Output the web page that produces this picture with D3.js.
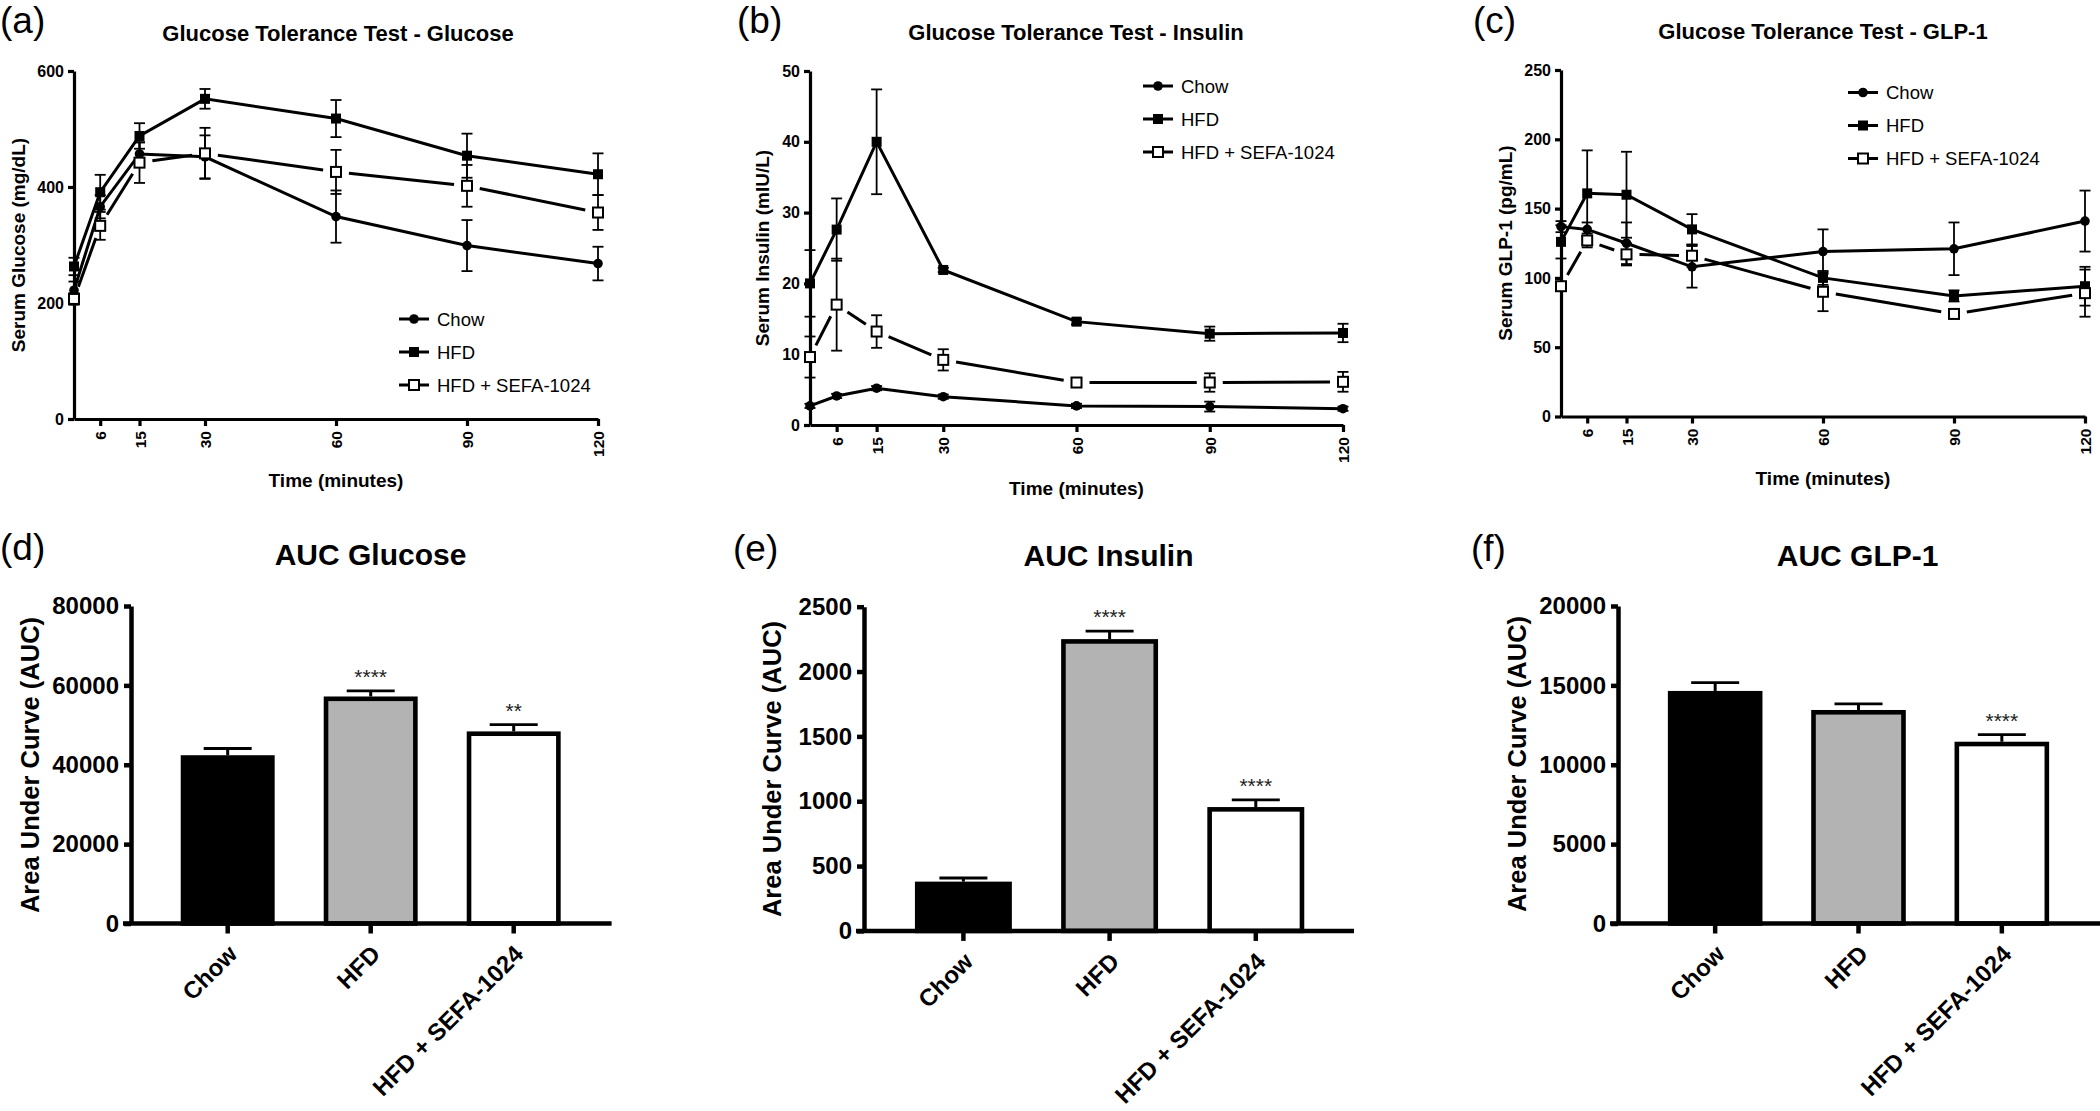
<!DOCTYPE html>
<html>
<head>
<meta charset="utf-8">
<script src="https://cdn.jsdelivr.net/npm/d3@7"></script>
<style>
  body { margin: 0; background: #fff; }
  svg { display: block; }
  text { font-family: "Liberation Sans", Arial, sans-serif; fill: #000; }
</style>
</head>
<body>
<div id="chart"></div>
<script>
const width = 2100;
const height = 1111;

// time points (minutes) and the labelled ticks
const times = [0, 6, 15, 30, 60, 90, 120];
const timeTicks = [6, 15, 30, 60, 90, 120];
const seriesNames = ["Chow", "HFD", "HFD + SEFA-1024"];

// (a) serum glucose, mg/dL
const chowGlucose = [222, 366, 457, 452, 349, 299, 268];
const chowGlucoseErr = [15, 20, 20, 37, 45, 44, 29];
const hfdGlucose = [263, 391, 488, 552, 518, 454, 422];
const hfdGlucoseErr = [15, 30, 22, 17, 32, 38, 36];
const sefaGlucose = [207, 333, 442, 458, 426, 402, 356];
const sefaGlucoseErr = [10, 24, 35, 44, 38, 36, 30];

// (b) serum insulin, mIU/L
const chowInsulin = [2.7, 4.1, 5.2, 4.0, 2.7, 2.6, 2.3];
const chowInsulinErr = [0.3, 0.3, 0.3, 0.3, 0.3, 0.7, 0.3];
const hfdInsulin = [20.0, 27.6, 40.0, 21.9, 14.6, 12.9, 13.0];
const hfdInsulinErr = [4.7, 4.4, 7.4, 0.3, 0.4, 1.0, 1.3];
const sefaInsulin = [9.6, 17.0, 13.2, 9.2, 6.0, 6.0, 6.1];
const sefaInsulinErr = [2.9, 6.5, 2.3, 1.5, 0.3, 1.3, 1.4];

// (c) serum GLP-1, pg/mL
const chowGlp = [137, 135, 125, 108, 119, 121, 141];
const chowGlpErr = [4, 5, 15, 15, 16, 19, 22];
const hfdGlp = [126, 161, 160, 135, 100, 87, 94];
const hfdGlpErr = [12, 31, 31, 11, 5, 4, 14];
const sefaGlp = [94, 127, 117, 116, 90, 74, 89];
const sefaGlpErr = [3, 5, 8, 8, 14, 3, 17];

// (d)-(f) area under curve
const groups = ["Chow", "HFD", "HFD + SEFA-1024"];
const aucGlucose = [42400, 57200, 48400];
const aucGlucoseErr = [1700, 1400, 1700];
const aucGlucoseStars = ["", "****", "**"];
const aucInsulin = [380, 2250, 955];
const aucInsulinErr = [28, 62, 56];
const aucInsulinStars = ["", "****", "****"];
const aucGlp = [14650, 13450, 11450];
const aucGlpErr = [520, 380, 450];
const aucGlpStars = ["", "", "****"];

const svg = d3.select("#chart")
  .append("svg")
  .attr("width", width)
  .attr("height", height);

function styleAxis(g, fontSize, strokeW) {
  g.attr("font-family", null).attr("font-size", null);
  g.selectAll("text")
    .style("font-size", fontSize + "px")
    .style("font-weight", "bold");
  g.selectAll("line").attr("stroke", "#000").attr("stroke-width", strokeW);
  g.select(".domain").attr("stroke", "#000").attr("stroke-width", strokeW);
}

function drawMarker(g, kind, cx, cy) {
  if (kind === "circle") {
    g.append("circle").attr("cx", cx).attr("cy", cy).attr("r", 4.8).attr("fill", "#000");
  } else if (kind === "square") {
    g.append("rect").attr("x", cx - 5).attr("y", cy - 5).attr("width", 10).attr("height", 10).attr("fill", "#000");
  } else {
    g.append("rect").attr("x", cx - 5).attr("y", cy - 5).attr("width", 10).attr("height", 10)
      .attr("fill", "#fff").attr("stroke", "#000").attr("stroke-width", 2);
  }
}

// time course panel
function linePanel(o) {
  const x = d3.scaleLinear().domain([0, 120]).range([o.x0, o.x1]);
  const y = d3.scaleLinear().domain([0, o.yMax]).range([o.y0, o.y1]);
  const g = svg.append("g");

  const xAxis = g.append("g")
    .attr("transform", `translate(0,${o.y0})`)
    .call(d3.axisBottom(x).tickValues(timeTicks).tickSize(7).tickSizeOuter(0));
  styleAxis(xAxis, 15.5, 3.2);
  xAxis.selectAll("text")
    .attr("transform", "rotate(-90)")
    .attr("text-anchor", "end")
    .attr("x", -12)
    .attr("y", 0)
    .attr("dy", "0.36em");

  const yAxis = g.append("g")
    .attr("transform", `translate(${o.x0},0)`)
    .call(d3.axisLeft(y).tickValues(o.yTicks).tickSize(6).tickSizeOuter(0).tickPadding(4));
  styleAxis(yAxis, 16, 3.2);

  const series = [
    { v: o.chow, e: o.chowErr, kind: "circle", dashed: false },
    { v: o.hfd, e: o.hfdErr, kind: "square", dashed: false },
    { v: o.sefa, e: o.sefaErr, kind: "open", dashed: true }
  ];

  const line = d3.line().x((d, i) => x(times[i])).y(d => y(d));

  series.forEach(s => {
    if (!s.dashed) {
      g.append("path").datum(s.v)
        .attr("d", line)
        .attr("fill", "none").attr("stroke", "#000").attr("stroke-width", 3);
    } else {
      // open-symbol series: segments stop short of each symbol
      const gap = 13;
      for (let i = 0; i < times.length - 1; i++) {
        const ax = x(times[i]), ay = y(s.v[i]);
        const bx = x(times[i + 1]), by = y(s.v[i + 1]);
        const len = Math.hypot(bx - ax, by - ay);
        if (len <= gap * 2) continue;
        const ux = (bx - ax) / len, uy = (by - ay) / len;
        g.append("line")
          .attr("x1", ax + ux * gap).attr("y1", ay + uy * gap)
          .attr("x2", bx - ux * gap).attr("y2", by - uy * gap)
          .attr("stroke", "#000").attr("stroke-width", 3);
      }
    }
  });

  series.forEach(s => {
    s.v.forEach((d, i) => {
      const cx = x(times[i]);
      const lo = y(d - s.e[i]), hi = y(d + s.e[i]);
      g.append("line").attr("x1", cx).attr("x2", cx).attr("y1", lo).attr("y2", hi)
        .attr("stroke", "#000").attr("stroke-width", 1.8);
      [lo, hi].forEach(yy => {
        g.append("line").attr("x1", cx - 5.5).attr("x2", cx + 5.5).attr("y1", yy).attr("y2", yy)
          .attr("stroke", "#000").attr("stroke-width", 1.8);
      });
    });
  });

  series.forEach(s => {
    s.v.forEach((d, i) => drawMarker(g, s.kind, x(times[i]), y(d)));
  });

  // legend
  series.forEach((s, i) => {
    const ly = o.legendY + i * 33;
    g.append("line").attr("x1", o.legendX).attr("x2", o.legendX + 30)
      .attr("y1", ly).attr("y2", ly).attr("stroke", "#000").attr("stroke-width", 3);
    drawMarker(g, s.kind, o.legendX + 15, ly);
    g.append("text").attr("x", o.legendX + 38).attr("y", ly).attr("dy", "0.36em")
      .style("font-size", "18.5px").text(seriesNames[i]);
  });

  g.append("text").attr("x", o.titleX).attr("y", o.titleY)
    .attr("text-anchor", "middle").style("font-size", "22px").style("font-weight", "bold")
    .text(o.title);

  g.append("text").attr("x", (o.x0 + o.x1) / 2).attr("y", o.xLabelY)
    .attr("text-anchor", "middle").style("font-size", "19px").style("font-weight", "bold")
    .text("Time (minutes)");

  g.append("text")
    .attr("transform", `translate(${o.yLabelX},${o.yLabelY}) rotate(-90)`)
    .attr("text-anchor", "middle").style("font-size", "19px").style("font-weight", "bold")
    .text(o.yLabel);

  g.append("text").attr("x", o.tagX).attr("y", o.tagY)
    .style("font-size", "37px").text(o.tag);
}

// AUC bar panel
function barPanel(o) {
  const x = d3.scaleBand().domain(groups).range(o.band).paddingInner(o.pad).paddingOuter(o.pad / 2);
  const y = d3.scaleLinear().domain([0, o.yMax]).range([o.y0, o.y1]);
  const g = svg.append("g");
  const fills = ["#000", "#b3b3b3", "#fff"];

  groups.forEach((grp, i) => {
    const cx = x(grp) + x.bandwidth() / 2;
    const top = y(o.vals[i]), errTop = y(o.vals[i] + o.errs[i]);
    g.append("line").attr("x1", cx).attr("x2", cx).attr("y1", top).attr("y2", errTop)
      .attr("stroke", "#000").attr("stroke-width", 3);
    g.append("line").attr("x1", cx - 24).attr("x2", cx + 24).attr("y1", errTop).attr("y2", errTop)
      .attr("stroke", "#000").attr("stroke-width", 2.8);
    g.append("rect")
      .attr("x", x(grp) + 2.3).attr("y", top + 2.3)
      .attr("width", x.bandwidth() - 4.6).attr("height", o.y0 - top - 2.3)
      .attr("fill", fills[i]).attr("stroke", "#000").attr("stroke-width", 4.6);
    if (o.stars[i]) {
      g.append("text").attr("x", cx).attr("y", errTop - 7)
        .attr("text-anchor", "middle").style("font-size", "21px").style("fill", "#222")
        .text(o.stars[i]);
    }
  });

  const xAxis = g.append("g")
    .attr("transform", `translate(0,${o.y0})`)
    .call(d3.axisBottom(x).tickSize(10).tickSizeOuter(0));
  styleAxis(xAxis, 24, 4.5);
  xAxis.select(".domain").remove();
  xAxis.selectAll("text")
    .attr("transform", "translate(5,26) rotate(-45)")
    .attr("text-anchor", "end")
    .attr("x", 0).attr("y", 0).attr("dy", "0.36em");
  g.append("line").attr("x1", o.axisX - 8).attr("x2", o.axisEnd)
    .attr("y1", o.y0).attr("y2", o.y0).attr("stroke", "#000").attr("stroke-width", 4.5);

  const yAxis = g.append("g")
    .attr("transform", `translate(${o.axisX},0)`)
    .call(d3.axisLeft(y).tickValues(o.yTicks).tickFormat(d3.format("d"))
      .tickSize(7).tickSizeOuter(0).tickPadding(5));
  styleAxis(yAxis, 24, 4.5);

  g.append("text").attr("x", o.titleX).attr("y", o.titleY)
    .attr("text-anchor", "middle").style("font-size", "30px").style("font-weight", "bold")
    .text(o.title);

  g.append("text")
    .attr("transform", `translate(${o.yLabelX},${o.yLabelY}) rotate(-90)`)
    .attr("text-anchor", "middle").style("font-size", "25.5px").style("font-weight", "bold")
    .text("Area Under Curve (AUC)");

  g.append("text").attr("x", o.tagX).attr("y", o.tagY)
    .style("font-size", "37px").text(o.tag);
}

linePanel({
  x0: 74, x1: 598, y0: 419, y1: 71, yMax: 600, yTicks: [0, 200, 400, 600],
  chow: chowGlucose, chowErr: chowGlucoseErr, hfd: hfdGlucose, hfdErr: hfdGlucoseErr,
  sefa: sefaGlucose, sefaErr: sefaGlucoseErr,
  legendX: 399, legendY: 319,
  title: "Glucose Tolerance Test - Glucose", titleX: 338, titleY: 41,
  xLabelY: 487, yLabel: "Serum Glucose (mg/dL)", yLabelX: 25, yLabelY: 245,
  tag: "(a)", tagX: 0, tagY: 33
});

linePanel({
  x0: 810, x1: 1343, y0: 425, y1: 71, yMax: 50, yTicks: [0, 10, 20, 30, 40, 50],
  chow: chowInsulin, chowErr: chowInsulinErr, hfd: hfdInsulin, hfdErr: hfdInsulinErr,
  sefa: sefaInsulin, sefaErr: sefaInsulinErr,
  legendX: 1143, legendY: 86,
  title: "Glucose Tolerance Test - Insulin", titleX: 1076, titleY: 40,
  xLabelY: 495, yLabel: "Serum Insulin (mIU/L)", yLabelX: 769, yLabelY: 248,
  tag: "(b)", tagX: 737, tagY: 33
});

linePanel({
  x0: 1561, x1: 2085, y0: 416.5, y1: 70, yMax: 250, yTicks: [0, 50, 100, 150, 200, 250],
  chow: chowGlp, chowErr: chowGlpErr, hfd: hfdGlp, hfdErr: hfdGlpErr,
  sefa: sefaGlp, sefaErr: sefaGlpErr,
  legendX: 1848, legendY: 92.5,
  title: "Glucose Tolerance Test - GLP-1", titleX: 1823, titleY: 39,
  xLabelY: 485, yLabel: "Serum GLP-1 (pg/mL)", yLabelX: 1512, yLabelY: 243,
  tag: "(c)", tagX: 1473, tagY: 33
});

barPanel({
  axisX: 131, axisEnd: 611.6, band: [156.2, 585.2], pad: 0.343,
  y0: 923.5, y1: 606, yMax: 80000, yTicks: [0, 20000, 40000, 60000, 80000],
  vals: aucGlucose, errs: aucGlucoseErr, stars: aucGlucoseStars,
  title: "AUC Glucose", titleX: 370.5, titleY: 565,
  yLabelX: 39, yLabelY: 765, tag: "(d)", tagX: 0, tagY: 560
});

barPanel({
  axisX: 864, axisEnd: 1354, band: [890.3, 1328.9], pad: 0.337,
  y0: 930.9, y1: 606.7, yMax: 2500, yTicks: [0, 500, 1000, 1500, 2000, 2500],
  vals: aucInsulin, errs: aucInsulinErr, stars: aucInsulinStars,
  title: "AUC Insulin", titleX: 1108.5, titleY: 566,
  yLabelX: 781, yLabelY: 769, tag: "(e)", tagX: 733, tagY: 561
});

barPanel({
  axisX: 1618, axisEnd: 2100, band: [1643.5, 2073.5], pad: 0.34,
  y0: 923.5, y1: 606, yMax: 20000, yTicks: [0, 5000, 10000, 15000, 20000],
  vals: aucGlp, errs: aucGlpErr, stars: aucGlpStars,
  title: "AUC GLP-1", titleX: 1857.6, titleY: 566,
  yLabelX: 1526, yLabelY: 764, tag: "(f)", tagX: 1471, tagY: 561
});
</script>
</body>
</html>
